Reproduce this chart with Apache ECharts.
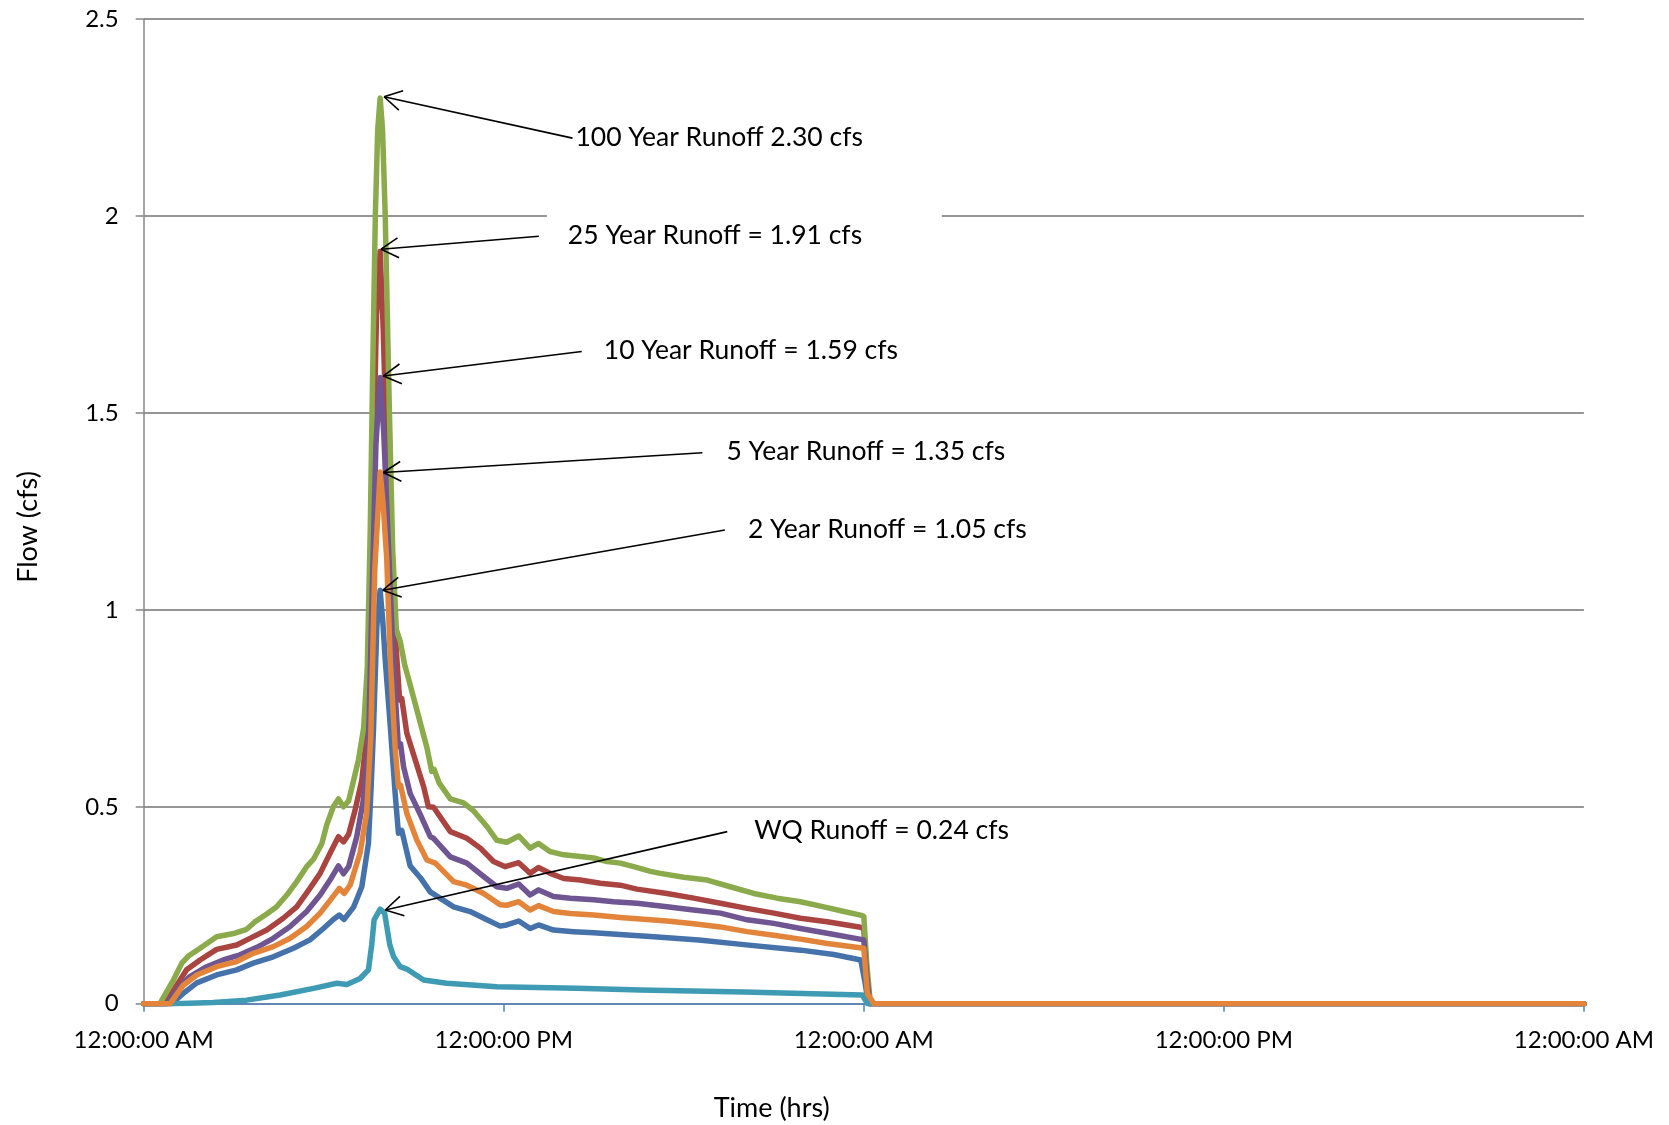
<!DOCTYPE html>
<html><head><meta charset="utf-8">
<script src="https://cdn.jsdelivr.net/npm/echarts@6/dist/echarts.min.js"></script>
<style>html,body{margin:0;padding:0;background:#fff}#c{width:1669px;height:1125px}</style>
</head><body><div id="c"></div>
<script>
// ---- tick labels ----
const xTickLabels = ['12:00:00 AM','12:00:00 PM','12:00:00 AM','12:00:00 PM','12:00:00 AM'];
const yTickLabels = ['0','0.5','1','1.5','2','2.5'];

// ---- series (hours since start, flow cfs) ----
const flow2yr = [[0,0],[0.93,0],[1.32,0.026],[1.77,0.053],[2.43,0.073],[3.10,0.086],[3.65,0.103],[4.32,0.119],[4.99,0.141],[5.54,0.162],[5.99,0.191],[6.32,0.214],[6.52,0.225],[6.68,0.214],[7.0,0.246],[7.27,0.297],[7.49,0.407],[7.58,0.55],[7.66,0.70],[7.77,0.957],[7.88,1.05],[7.97,0.97],[8.05,0.873],[8.22,0.703],[8.38,0.534],[8.49,0.433],[8.6,0.44],[8.88,0.35],[9.22,0.32],[9.55,0.284],[10.33,0.246],[10.88,0.234],[11.44,0.213],[11.88,0.197],[12.1,0.2],[12.5,0.21],[12.88,0.191],[13.16,0.2],[13.66,0.187],[14.33,0.183],[15.0,0.18],[16.0,0.175],[17.0,0.17],[18.5,0.162],[20.0,0.15],[21.9,0.136],[23.0,0.125],[23.9,0.111],[24.05,0.05],[24.15,0],[48,0]];
const flow25yr = [[0,0],[0.71,0],[1.10,0.047],[1.43,0.086],[1.88,0.111],[2.43,0.138],[3.10,0.149],[3.54,0.166],[4.10,0.187],[4.65,0.217],[5.10,0.246],[5.54,0.293],[5.88,0.331],[6.21,0.382],[6.49,0.424],[6.66,0.411],[6.83,0.43],[7.04,0.49],[7.27,0.568],[7.43,0.68],[7.55,0.95],[7.66,1.4],[7.76,1.75],[7.88,1.91],[7.98,1.72],[8.1,1.4],[8.27,1.1],[8.44,0.873],[8.53,0.771],[8.6,0.775],[8.77,0.687],[9.05,0.619],[9.33,0.551],[9.49,0.50],[9.66,0.499],[10.22,0.437],[10.77,0.42],[11.22,0.395],[11.66,0.361],[12.05,0.348],[12.5,0.358],[12.88,0.331],[13.16,0.346],[13.55,0.331],[14.0,0.318],[14.55,0.314],[15.22,0.306],[15.88,0.301],[16.44,0.291],[17.44,0.28],[18.33,0.268],[19.22,0.255],[20.11,0.242],[21.0,0.23],[21.89,0.217],[22.78,0.208],[23.89,0.194],[24.0,0.19],[24.1,0.08],[24.2,0],[48,0]];
const flow100yr = [[0,0],[0.54,0],[0.99,0.06],[1.27,0.103],[1.49,0.121],[1.88,0.141],[2.43,0.17],[3.04,0.179],[3.43,0.189],[3.71,0.208],[4.10,0.228],[4.43,0.246],[4.77,0.276],[5.10,0.31],[5.43,0.348],[5.66,0.367],[5.94,0.407],[6.10,0.454],[6.32,0.50],[6.49,0.52],[6.66,0.50],[6.83,0.515],[7.0,0.568],[7.16,0.62],[7.33,0.70],[7.45,0.85],[7.55,1.2],[7.63,1.6],[7.72,2.0],[7.8,2.22],[7.88,2.30],[7.96,2.22],[8.05,2.0],[8.19,1.5],[8.3,1.15],[8.42,0.95],[8.55,0.92],[8.7,0.86],[8.88,0.81],[9.16,0.73],[9.44,0.65],[9.6,0.59],[9.68,0.595],[9.85,0.56],[10.22,0.52],[10.66,0.51],[10.99,0.49],[11.44,0.45],[11.77,0.415],[12.1,0.41],[12.5,0.426],[12.88,0.395],[13.16,0.407],[13.55,0.386],[14.0,0.378],[14.55,0.374],[15.0,0.37],[15.44,0.361],[15.88,0.357],[16.33,0.348],[16.89,0.336],[17.22,0.331],[18.0,0.321],[18.78,0.314],[19.55,0.297],[20.33,0.28],[21.11,0.268],[21.89,0.259],[22.67,0.246],[23.34,0.234],[23.89,0.225],[24.0,0.222],[24.1,0.1],[24.22,0],[48,0]];
const flow10yr = [[0,0],[0.77,0],[1.21,0.043],[1.54,0.069],[2.10,0.094],[2.65,0.111],[3.21,0.124],[3.77,0.143],[4.32,0.166],[4.88,0.196],[5.43,0.234],[5.88,0.276],[6.21,0.314],[6.49,0.35],[6.66,0.33],[6.83,0.348],[7.1,0.424],[7.32,0.517],[7.49,0.65],[7.6,1.0],[7.74,1.42],[7.88,1.59],[8.0,1.45],[8.18,1.12],[8.33,0.85],[8.49,0.653],[8.56,0.66],[8.66,0.602],[8.88,0.534],[9.22,0.48],[9.55,0.424],[9.66,0.42],[10.22,0.373],[10.77,0.357],[11.33,0.323],[11.77,0.297],[12.1,0.293],[12.5,0.304],[12.88,0.276],[13.16,0.289],[13.66,0.272],[14.22,0.268],[15.0,0.264],[15.66,0.259],[16.44,0.255],[17.44,0.246],[18.33,0.238],[19.22,0.23],[20.11,0.213],[21.0,0.204],[21.89,0.191],[22.78,0.179],[24.0,0.162],[24.1,0.07],[24.2,0],[48,0]];
const flowWQ = [[0,0],[0.99,0],[2.32,0.003],[3.43,0.009],[4.55,0.022],[5.66,0.039],[6.44,0.052],[6.77,0.049],[7.21,0.064],[7.49,0.086],[7.6,0.15],[7.68,0.213],[7.88,0.24],[8.03,0.23],[8.2,0.15],[8.33,0.119],[8.55,0.094],[8.77,0.088],[9.33,0.06],[10.1,0.052],[11.77,0.043],[14.44,0.039],[16.55,0.035],[20.0,0.03],[23.95,0.022],[24.12,0],[48,0]];
const flow5yr = [[0,0],[0.88,0],[1.32,0.047],[1.77,0.073],[2.43,0.094],[3.10,0.107],[3.65,0.128],[4.32,0.145],[4.88,0.166],[5.43,0.196],[5.88,0.23],[6.27,0.268],[6.52,0.293],[6.68,0.28],[6.88,0.301],[7.21,0.382],[7.43,0.483],[7.57,0.68],[7.7,1.1],[7.88,1.35],[7.98,1.27],[8.1,1.13],[8.22,0.87],[8.38,0.65],[8.49,0.551],[8.56,0.555],[8.77,0.483],[9.1,0.416],[9.44,0.365],[9.72,0.357],[10.33,0.31],[10.77,0.301],[11.33,0.28],[11.88,0.251],[12.1,0.25],[12.5,0.259],[12.88,0.238],[13.16,0.249],[13.66,0.234],[14.22,0.229],[15.0,0.225],[15.88,0.219],[16.55,0.215],[17.44,0.21],[18.33,0.203],[19.22,0.195],[20.11,0.183],[21.0,0.174],[21.89,0.164],[22.78,0.153],[24.0,0.141],[24.12,0.026],[24.34,0],[48,0]];

const seriesNames = ['2 Year','25 Year','100 Year','10 Year','WQ','5 Year'];
const seriesData = [flow2yr, flow25yr, flow100yr, flow10yr, flowWQ, flow5yr];
const seriesColors = ['#4572AA','#A94441','#8BAA4B','#6F5592','#3F9BB3','#E2843A'];

// ---- annotation callouts (peak point, line tail) ----
const annotations = [
  {text:'100 Year Runoff 2.30 cfs', head:[8.01,2.303], tail:[14.29,2.198], dx:3},
  {text:'25 Year Runoff = 1.91 cfs', head:[7.91,1.916], tail:[13.17,1.949], dx:29, box:true},
  {text:'10 Year Runoff = 1.59 cfs', head:[7.99,1.594], tail:[14.60,1.656], dx:22},
  {text:'5 Year Runoff = 1.35 cfs', head:[7.99,1.349], tail:[18.62,1.399], dx:24},
  {text:'2 Year Runoff = 1.05 cfs', head:[7.97,1.050], tail:[19.37,1.203], dx:23},
  {text:'WQ Runoff = 0.24 cfs', head:[8.05,0.238], tail:[19.45,0.437], dx:27}
];

const FONT = 'Lato, "Open Sans", sans-serif';
const chart = echarts.init(document.getElementById('c'), null, {renderer:'canvas'});
const option = {
  animation:false,
  backgroundColor:'#ffffff',
  grid:{left:143.7, right:85.1, top:19.2, bottom:121.3, containLabel:false},
  xAxis:{
    type:'value', min:0, max:48, interval:12,
    axisLine:{show:true, onZero:false, lineStyle:{color:'#4F81BD', width:1.5}},
    axisTick:{show:true, length:8, lineStyle:{color:'#4F81BD', width:1.5}},
    axisLabel:{formatter:v=>xTickLabels[Math.round(v/12)], margin:25, fontSize:24, color:'#000', fontFamily:FONT},
    splitLine:{show:false}
  },
  yAxis:{
    type:'value', min:0, max:2.5, interval:0.5,
    axisLine:{show:true, lineStyle:{color:'#868686', width:1.5}},
    axisTick:{show:true, length:8, lineStyle:{color:'#868686', width:1.5}},
    axisLabel:{formatter:v=>yTickLabels[Math.round(v/0.5)], margin:25, fontSize:24, color:'#000', fontFamily:FONT},
    splitLine:{show:true, lineStyle:{color:'#959595', width:2}}
  },
  series: seriesData.map((d,i)=>({
    name:seriesNames[i], type:'line', data:d, showSymbol:false, symbol:'none',
    lineStyle:{color:seriesColors[i], width:5.5, join:'round', cap:'round'},
    itemStyle:{color:seriesColors[i]}, z:2+i*0.01
  }))
};
chart.setOption(option);

const gr = [];
gr.push({type:'text', x:28.7, y:527, rotation:Math.PI/2, z:10,
  style:{text:'Flow (cfs)', fontSize:27, fontFamily:FONT, fill:'#000', align:'center', verticalAlign:'middle'}});
gr.push({type:'text', x:771.7, y:1108, z:10,
  style:{text:'Time (hrs)', fontSize:27, fontFamily:FONT, fill:'#000', align:'center', verticalAlign:'middle'}});

annotations.forEach(a=>{
  const h = chart.convertToPixel({gridIndex:0}, a.head);
  const t = chart.convertToPixel({gridIndex:0}, a.tail);
  if (a.box) {
    gr.push({type:'rect', z:5, shape:{x:t[0]+8, y:t[1]-30, width:395, height:56}, style:{fill:'#ffffff'}});
  }
  gr.push({type:'line', z:20, shape:{x1:t[0], y1:t[1], x2:h[0], y2:h[1]}, style:{stroke:'#000', lineWidth:1.6}});
  const ang = Math.atan2(t[1]-h[1], t[0]-h[0]);
  const L = 20, w = 0.52;
  [ang+w, ang-w].forEach(b=>{
    gr.push({type:'line', z:20, shape:{x1:h[0], y1:h[1], x2:h[0]+L*Math.cos(b), y2:h[1]+L*Math.sin(b)}, style:{stroke:'#000', lineWidth:1.6}});
  });
  gr.push({type:'text', z:21, x:t[0]+a.dx, y:t[1]-1,
    style:{text:a.text, fontSize:26.5, fontFamily:FONT, fill:'#000', align:'left', verticalAlign:'middle'}});
});
chart.setOption({graphic:gr});
</script></body></html>
